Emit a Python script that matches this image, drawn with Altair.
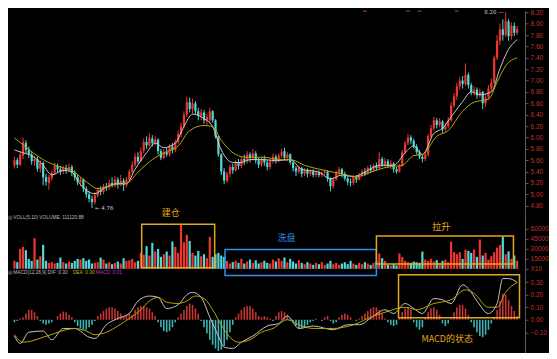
import altair as alt
import pandas as pd

# ---------------- data ----------------
opens = [5.50,5.60,5.52,5.68,5.90,5.78,5.70,5.58,5.62,5.45,
         5.55,5.30,5.20,5.28,5.38,5.50,5.44,5.40,5.46,5.42,
         5.48,5.38,5.30,5.22,5.26,5.10,5.00,4.92,4.86,4.98,
         5.08,5.04,5.14,5.12,5.20,5.16,5.26,5.18,5.24,5.16,
         5.26,5.40,5.52,5.66,5.58,5.76,5.92,5.86,5.98,5.90,
         5.96,5.76,5.64,5.74,5.70,5.84,5.78,5.92,6.06,6.20,
         6.40,6.62,6.50,6.60,6.46,6.38,6.44,6.30,6.30,6.46,
         6.30,6.02,5.70,5.40,5.24,5.36,5.48,5.42,5.56,5.50,
         5.62,5.58,5.70,5.64,5.72,5.60,5.52,5.62,5.56,5.48,
         5.58,5.66,5.60,5.68,5.76,5.64,5.70,5.56,5.46,5.40,
         5.46,5.36,5.42,5.36,5.40,5.34,5.38,5.34,5.38,5.40,
         5.28,5.14,5.26,5.38,5.44,5.36,5.28,5.22,5.20,5.30,
         5.26,5.34,5.40,5.36,5.46,5.42,5.50,5.46,5.62,5.52,
         5.58,5.50,5.54,5.44,5.40,5.50,5.74,5.90,6.00,5.94,
         5.84,5.74,5.66,5.62,5.70,6.02,6.16,6.30,6.22,6.28,
         6.14,6.20,6.30,6.56,6.72,6.90,7.00,6.94,7.10,6.92,
         6.80,6.84,6.74,6.80,6.60,6.70,6.86,6.96,7.40,7.70,
         7.90,7.80,8.04,7.78,7.96,7.84]
closes = [5.60,5.52,5.70,5.92,5.78,5.70,5.58,5.62,5.45,5.55,
          5.30,5.22,5.30,5.38,5.50,5.44,5.40,5.46,5.42,5.48,
          5.38,5.30,5.22,5.26,5.10,5.00,4.92,4.86,4.98,5.08,
          5.04,5.14,5.12,5.20,5.16,5.26,5.18,5.24,5.16,5.26,
          5.40,5.52,5.66,5.58,5.76,5.92,5.86,6.00,5.90,5.96,
          5.76,5.64,5.74,5.70,5.84,5.78,5.92,6.06,6.20,6.40,
          6.62,6.50,6.60,6.46,6.38,6.44,6.30,6.36,6.46,6.30,
          6.02,5.70,5.40,5.24,5.36,5.48,5.42,5.56,5.50,5.62,
          5.58,5.70,5.64,5.72,5.60,5.52,5.62,5.56,5.48,5.58,
          5.66,5.60,5.68,5.74,5.64,5.70,5.56,5.46,5.40,5.46,
          5.36,5.42,5.36,5.40,5.34,5.38,5.34,5.38,5.40,5.28,
          5.14,5.26,5.38,5.44,5.36,5.28,5.22,5.20,5.30,5.26,
          5.34,5.40,5.36,5.46,5.42,5.50,5.46,5.62,5.52,5.58,
          5.50,5.54,5.44,5.40,5.50,5.74,5.90,6.00,5.94,5.84,
          5.74,5.66,5.62,5.70,6.02,6.16,6.30,6.22,6.28,6.14,
          6.20,6.30,6.56,6.72,6.90,7.00,6.94,7.10,6.92,6.80,
          6.84,6.74,6.80,6.60,6.70,6.86,6.96,7.40,7.70,7.90,
          7.80,8.04,7.78,7.96,7.84,7.90]
highs = [5.66,5.64,5.76,6.00,5.95,5.84,5.74,5.68,5.66,5.60,
         5.58,5.36,5.34,5.42,5.56,5.54,5.50,5.50,5.52,5.54,
         5.52,5.42,5.34,5.30,5.28,5.14,5.06,4.98,5.04,5.12,
         5.14,5.18,5.20,5.26,5.30,5.32,5.30,5.34,5.28,5.30,
         5.44,5.58,5.72,5.74,5.82,5.98,6.02,6.07,6.04,6.02,
         5.98,5.80,5.80,5.82,5.88,5.90,5.96,6.12,6.26,6.46,
         6.72,6.70,6.68,6.64,6.52,6.50,6.48,6.42,6.52,6.48,
         6.32,6.04,5.72,5.46,5.40,5.52,5.54,5.60,5.62,5.66,
         5.70,5.76,5.74,5.80,5.76,5.64,5.66,5.68,5.60,5.62,
         5.72,5.70,5.72,5.80,5.82,5.74,5.72,5.60,5.50,5.50,
         5.48,5.46,5.46,5.44,5.44,5.42,5.42,5.40,5.44,5.42,
         5.30,5.30,5.42,5.48,5.46,5.40,5.32,5.28,5.34,5.34,
         5.38,5.44,5.46,5.50,5.52,5.54,5.56,5.74,5.66,5.64,
         5.62,5.60,5.56,5.48,5.54,5.78,5.94,6.06,6.04,5.98,
         5.88,5.78,5.70,5.74,6.06,6.22,6.36,6.34,6.34,6.30,
         6.26,6.36,6.62,6.78,6.96,7.06,7.08,7.30,7.14,6.96,
         6.90,6.88,6.86,6.82,6.76,6.92,7.04,7.44,7.80,8.00,
         8.08,8.20,8.08,8.02,8.02,7.96]
lows = [5.45,5.46,5.50,5.62,5.72,5.64,5.52,5.50,5.40,5.38,
        5.16,5.15,5.08,5.24,5.34,5.38,5.34,5.36,5.36,5.40,
        5.32,5.24,5.16,5.14,5.04,4.94,4.86,4.76,4.82,4.94,
        4.98,5.00,5.06,5.08,5.12,5.12,5.10,5.14,5.06,5.12,
        5.22,5.36,5.48,5.54,5.56,5.72,5.80,5.84,5.84,5.86,
        5.70,5.60,5.62,5.66,5.66,5.72,5.74,5.88,6.00,6.16,
        6.36,6.44,6.42,6.40,6.30,6.30,6.24,6.22,6.24,6.26,
        5.98,5.66,5.34,5.18,5.20,5.30,5.36,5.40,5.44,5.46,
        5.52,5.54,5.56,5.60,5.54,5.46,5.48,5.50,5.42,5.44,
        5.54,5.54,5.56,5.64,5.60,5.58,5.52,5.40,5.32,5.36,
        5.30,5.32,5.30,5.32,5.30,5.30,5.30,5.30,5.34,5.22,
        5.05,5.10,5.24,5.34,5.30,5.24,5.16,5.14,5.16,5.20,
        5.24,5.30,5.32,5.34,5.38,5.40,5.42,5.44,5.48,5.48,
        5.46,5.44,5.38,5.36,5.38,5.48,5.70,5.86,5.88,5.80,
        5.70,5.62,5.56,5.58,5.66,5.98,6.12,6.16,6.18,6.08,
        6.10,6.16,6.28,6.52,6.66,6.84,6.86,6.90,6.86,6.74,
        6.74,6.68,6.70,6.50,6.54,6.66,6.80,6.94,7.36,7.62,
        7.70,7.76,7.70,7.72,7.78,7.80]
volumes = [12000,10000,30000,33000,28000,15000,12000,46000,14000,19000,
           36000,12000,9000,10000,8000,9000,17000,10000,8000,11000,
           9000,12000,15000,14000,16000,12000,14000,8000,9000,10000,
           17000,14000,8000,10000,7000,9000,11000,8000,16000,12000,
           13000,15000,10000,12000,24000,21000,34000,20000,39000,26000,
           30000,18000,22000,26000,20000,41000,33000,24000,66000,40000,
           51000,42000,24000,20000,27000,19000,22000,16000,48000,18000,
           22000,24000,20000,18000,12000,8000,10000,12000,9000,15000,
           8000,11000,14000,9000,13000,8000,10000,12000,9000,8000,
           14000,11000,16000,12000,17000,10000,15000,11000,8000,13000,
           9000,7000,10000,8000,6000,9000,7000,10000,6000,8000,
           12000,7000,9000,6000,8000,10000,7000,12000,8000,6000,
           9000,7000,10000,8000,6000,9000,11000,23000,16000,12000,
           6000,5000,7000,5000,23000,18000,12000,10000,9000,11000,
           10000,9000,26000,14000,12000,15000,11000,13000,9000,12000,
           14000,10000,41000,25000,22000,25000,15000,29000,27000,24000,
           29000,18000,44000,20000,24000,14000,19000,25000,32000,36000,
           48000,22000,26000,15000,20000,12000]
macd_hist = [-0.02,-0.01,0.01,0.02,
             0.05,0.08,0.08,0.06,0.03,
             -0.01,-0.03,-0.04,-0.03,-0.02,0.00,
             0.03,0.05,0.065,0.06,0.04,0.02,
             -0.02,-0.05,-0.07,-0.08,-0.08,-0.06,-0.04,-0.01,
             0.03,0.05,0.07,0.09,0.10,0.10,0.09,0.07,0.05,
             0.03,0.04,0.05,0.04,
             0.08,0.10,0.11,0.11,0.10,0.09,0.06,0.03,
             -0.02,-0.06,-0.09,-0.10,-0.09,-0.06,-0.02,
             0.02,0.05,0.08,0.11,0.13,0.12,0.09,0.05,
             -0.01,-0.06,-0.11,-0.16,-0.20,-0.23,-0.25,-0.24,-0.21,-0.16,-0.10,-0.04,
             0.02,0.05,0.08,0.10,0.11,0.11,0.09,0.06,0.03,0.02,
             0.03,0.02,0.01,-0.01,
             0.03,0.06,0.07,0.06,0.04,0.01,
             -0.02,-0.05,-0.07,-0.07,-0.06,-0.04,-0.02,-0.01,
             0.01,0.00,-0.01,0.02,0.03,-0.01,-0.03,
             -0.02,0.02,0.04,0.05,0.04,0.02,
             0.00,-0.01,0.01,
             0.03,0.05,0.07,0.09,0.10,0.10,0.08,0.05,
             0.01,-0.02,-0.04,-0.05,-0.04,
             0.02,0.06,0.09,0.10,0.08,
             -0.02,-0.06,-0.08,-0.06,
             0.02,0.06,0.09,0.10,0.08,0.04,
             -0.03,-0.05,-0.03,
             0.02,0.06,0.10,0.12,0.12,0.09,0.04,
             -0.02,-0.06,-0.10,-0.13,-0.14,-0.12,-0.08,-0.03,0.02,
             0.08,0.15,0.21,0.20,0.16,0.11,0.07,0.03]

ma_white_idx = [0,3,6,10,13,17,20,23,28,31,36,39,42,46,49,52,56,59,62,66,
                69,72,76,79,82,87,91,96,100,106,110,114,118,122,127,132,136,139,142,146,
                149,152,156,159,162,166,169,172,175]
ma_white = [5.78,5.73,5.68,5.51,5.34,5.42,5.39,5.17,5.01,5.10,5.19,5.19,5.44,5.73,5.90,5.82,5.90,6.19,6.41,6.33,
            6.19,5.78,5.56,5.56,5.61,5.61,5.59,5.61,5.44,5.39,5.27,5.34,5.31,5.39,5.51,5.51,5.73,5.85,5.70,6.07,
            6.16,6.36,6.63,6.80,6.75,6.80,7.21,7.55,7.72]
ma_yellow_idx = [0,3,10,16,20,25,29,35,39,43,48,52,57,61,66,69,72,77,81,87,
                 92,96,101,108,114,119,124,130,135,139,142,147,151,156,160,165,168,171,175]
ma_yellow = [5.99,5.87,5.61,5.48,5.42,5.22,5.10,5.17,5.19,5.39,5.61,5.73,5.85,6.12,6.21,6.19,5.95,5.70,5.65,5.65,
             5.61,5.61,5.51,5.42,5.36,5.31,5.39,5.48,5.51,5.68,5.70,6.02,6.12,6.46,6.62,6.67,6.97,7.26,7.40]

dif_idx = [0,2,5,10,13,17,21,26,28,32,36,40,43,47,50,53,57,60,62,65,
           68,71,73,76,79,83,88,92,95,99,104,111,116,120,125,129,132,136,139,142,
           146,149,152,156,158,161,165,168,170,172,175]
dif = [-0.13,-0.19,-0.10,-0.09,-0.16,-0.07,-0.07,-0.14,-0.15,-0.04,0.01,0.05,0.15,0.19,0.18,0.09,0.12,0.20,0.22,0.18,
       0.02,-0.13,-0.22,-0.23,-0.18,-0.13,-0.05,-0.03,0.03,-0.07,-0.05,-0.08,-0.04,-0.04,0.03,0.08,0.05,0.13,0.09,0.05,
       0.17,0.16,0.13,0.28,0.25,0.15,0.05,0.13,0.33,0.33,0.30]
dea_idx = [0,3,6,10,14,18,21,25,28,32,36,40,44,47,50,53,57,60,63,66,
           69,72,75,78,82,86,90,95,99,104,111,118,125,129,136,140,146,152,157,160,
           165,168,171,175]
dea = [-0.12,-0.18,-0.17,-0.14,-0.11,-0.08,-0.07,-0.09,-0.12,-0.10,-0.05,0.01,0.08,0.15,0.18,0.14,0.13,0.15,0.19,0.17,
       0.08,-0.04,-0.14,-0.18,-0.16,-0.10,-0.07,0.00,-0.04,-0.07,-0.07,-0.04,0.03,0.06,0.10,0.08,0.13,0.16,0.24,0.21,
       0.10,0.10,0.22,0.30]

price_ticks = [4.80,5.00,5.20,5.40,5.60,5.80,6.00,6.20,6.40,6.60,6.80,7.00,7.20,7.40,7.60,7.80,8.00,8.20]
vol_ticks = [0,15000,30000,45000,60000]
macd_ticks = [-0.10,0.00,0.10,0.20,0.30]

event_idx = [122,137,141,154]

# boxes: [x_start, x_end, top, bottom] in bar index / panel units
box_build = [44.3, 69.7, 67000, 1500]
box_wash = [73.3, 126.0, 29000, -10000]
box_lift = [126.0, 173.7, 49500, 7300]
box_macd = [133.7, 175.8, 0.36, 0.015]

# ---------------- styling ----------------
RED = "#EE3630"
CYAN = "#52D8D8"
HRED = "#C83434"
HCYAN = "#3FB4B4"
MAW = "#C8C8C8"
MAY = "#B8A600"
GOLD = "#E3A81B"
BLUE = "#2F8FE8"
AXC = "#C2332B"
LAT = "Liberation Sans"
CJK = "Noto Sans CJK SC"

W = 518
H1, H2, H3 = 205, 54, 84
XDOM = [-0.5, 176]

bars = pd.DataFrame({"i": list(range(len(closes))), "o": opens, "h": highs,
                     "l": lows, "c": closes, "v": volumes, "m": macd_hist})


def xq(field):
    return alt.X(field, scale=alt.Scale(domain=XDOM, nice=False, zero=False), axis=None)


def raxis(values, fmt, expr=None):
    kw = dict(orient="right", values=values, format=fmt, labelColor=AXC, labelFontSize=6.5,
              labelFont=LAT, domainColor="#5a5a5a", tickColor="#5a5a5a", tickSize=3,
              labelPadding=2, grid=False, title=None)
    if expr:
        kw["labelExpr"] = expr
    return alt.Axis(**kw)


PAX = raxis(price_ticks, ".2f")
VAX = raxis(vol_ticks, "d", "datum.value == 0 ? 'X10' : datum.label")
MAX_ = raxis(macd_ticks, ".2f")

updown = alt.when(alt.datum.c >= alt.datum.o).then(alt.value(RED)).otherwise(alt.value(CYAN))


def txt(text, x, y, color, size, font=LAT, align="left"):
    return alt.Chart(pd.DataFrame({"t": [text]})).mark_text(
        align=align, baseline="middle", color=color, fontSize=size, font=font
    ).encode(x=alt.value(x), y=alt.value(y), text="t:N")


def box(b, sc, ax, color):
    d = pd.DataFrame({"x1": [b[0]], "x2": [b[1]], "y1": [b[2]], "y2": [b[3]]})
    return alt.Chart(d).mark_rect(filled=False, color=color, strokeWidth=1.5).encode(
        x=xq("x1:Q"), x2="x2:Q", y=alt.Y("y1:Q", scale=sc, axis=ax), y2="y2:Q")


# ---------------- price panel ----------------
py = alt.Scale(domain=[4.637, 8.235], nice=False, zero=False)
wick = alt.Chart(bars).mark_rule(strokeWidth=1).encode(
    x=xq("i:Q"), y=alt.Y("l:Q", scale=py, axis=PAX), y2="h:Q", color=updown)
body = alt.Chart(bars).mark_bar(size=2.2).encode(
    x=xq("i:Q"), y=alt.Y("o:Q", scale=py, axis=PAX), y2="c:Q", color=updown)
maw = alt.Chart(pd.DataFrame({"i": ma_white_idx, "p": ma_white})).mark_line(
    color=MAW, strokeWidth=1, interpolate="monotone").encode(
    x=xq("i:Q"), y=alt.Y("p:Q", scale=py, axis=PAX))
may = alt.Chart(pd.DataFrame({"i": ma_yellow_idx, "p": ma_yellow})).mark_line(
    color=MAY, strokeWidth=1, interpolate="monotone").encode(
    x=xq("i:Q"), y=alt.Y("p:Q", scale=py, axis=PAX))
low_lbl = alt.Chart(pd.DataFrame({"i": [27], "p": [4.76], "t": ["\u2190 4.76"]})).mark_text(
    align="left", baseline="middle", dx=3, color="#C8C8C8", fontSize=5.5, font="DejaVu Sans").encode(
    x=xq("i:Q"), y=alt.Y("p:Q", scale=py, axis=PAX), text="t:N")
high_lbl = alt.Chart(pd.DataFrame({"i": [171], "p": [8.20], "t": ["8.20 \u2014"]})).mark_text(
    align="right", baseline="middle", dx=-2, color="#C8C8C8", fontSize=5.5, font="DejaVu Sans").encode(
    x=xq("i:Q"), y=alt.Y("p:Q", scale=py, axis=PAX), text="t:N")
events = alt.Chart(pd.DataFrame({"i": event_idx, "p": [8.22] * len(event_idx)})).mark_tick(
    orient="horizontal", size=4, thickness=1.5, color="#C020C0").encode(
    x=xq("i:Q"), y=alt.Y("p:Q", scale=py, axis=PAX))
price = alt.layer(wick, body, maw, may, low_lbl, high_lbl, events).properties(width=W, height=H1)

# ---------------- volume panel ----------------
vy = alt.Scale(domain=[0, 81000], nice=False)
volb = alt.Chart(bars).mark_bar(size=2.2).encode(
    x=xq("i:Q"), y=alt.Y("v:Q", scale=vy, axis=VAX), color=updown)
volume = alt.layer(
    volb,
    box(box_build, vy, VAX, GOLD), box(box_wash, vy, VAX, BLUE), box(box_lift, vy, VAX, GOLD),
    txt("\u25ce VOLL(5,10) VOLUME: 111120.88", 0, 3, "#BBBBBB", 4.8),
    txt("建仓", 163, -2, GOLD, 9, CJK, "center"),
    txt("洗盘", 279, 23, BLUE, 9, CJK, "center"),
    txt("拉升", 434, 12, GOLD, 9, CJK, "center"),
).properties(width=W, height=H2)

# ---------------- MACD panel ----------------
my = alt.Scale(domain=[-0.264, 0.408], nice=False, zero=False)
hist = alt.Chart(bars).mark_bar(size=1.6).encode(
    x=xq("i:Q"), y=alt.Y("m:Q", scale=my, axis=MAX_), y2=alt.Y2Datum(0),
    color=alt.when(alt.datum.m >= 0).then(alt.value(HRED)).otherwise(alt.value(HCYAN)))
difl = alt.Chart(pd.DataFrame({"i": dif_idx, "p": dif})).mark_line(
    color="#C4C4C4", strokeWidth=1, interpolate="monotone").encode(
    x=xq("i:Q"), y=alt.Y("p:Q", scale=my, axis=MAX_))
deal = alt.Chart(pd.DataFrame({"i": dea_idx, "p": dea})).mark_line(
    color=MAY, strokeWidth=1, interpolate="monotone").encode(
    x=xq("i:Q"), y=alt.Y("p:Q", scale=my, axis=MAX_))
macd = alt.layer(
    hist, difl, deal, box(box_macd, my, MAX_, GOLD),
    txt("\u25ce MACD(12,26,9) DIF: 0.30", 0, 4, "#BBBBBB", 4.8),
    txt("DEA: 0.30", 65, 4, "#C8B400", 4.8),
    txt("MACD: 0.01", 88, 4, "#C030C0", 4.8),
    txt("MACD的状态", 440, 70, GOLD, 9, CJK, "center"),
).properties(width=W, height=H3)

chart = alt.vconcat(price, volume, macd, spacing=0, bounds="flush", padding=0).configure(
    background="#000000").configure_view(strokeWidth=0)

chart.save("out.html", embed_options={"renderer": "svg", "actions": False})
